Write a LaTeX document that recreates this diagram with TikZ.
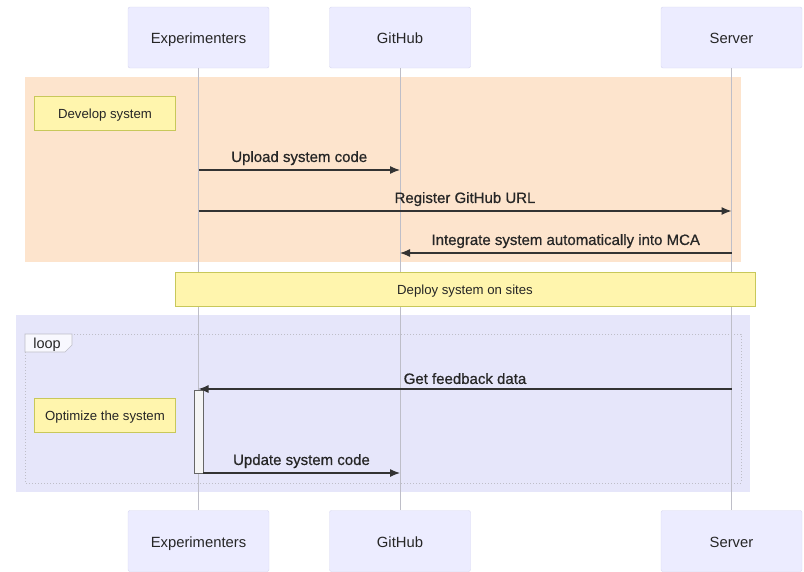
\documentclass[tikz,border=0pt]{standalone}
\usepackage{fontspec}
\setmainfont{Liberation Sans}
\newfontfamily\msgfont[FakeBold=0.6]{Liberation Sans}
\usetikzlibrary{arrows.meta}
\definecolor{actorfill}{RGB}{236,236,255}
\definecolor{actorline}{RGB}{214,214,240}
\definecolor{devrect}{RGB}{253,228,205}
\definecolor{looprect}{RGB}{230,230,250}
\definecolor{notefill}{RGB}{255,245,173}
\definecolor{noteline}{RGB}{200,200,90}
\definecolor{msgline}{RGB}{51,51,51}
\definecolor{lifegray}{RGB}{190,190,200}

\tikzset{
  actor/.style={draw=actorline, fill=actorfill, rounded corners=2pt, minimum width=141pt, minimum height=61pt, text height=12pt, text depth=0pt, font=\fontsize{14.8}{17}\selectfont, text=black!85},
  note/.style={draw=noteline, fill=notefill, minimum height=34pt, text height=10.5pt, text depth=0pt, font=\fontsize{13.2}{15}\selectfont, text=black!85},
  msg/.style={draw=msgline, line width=1.2pt, -{Latex[length=10pt,width=8pt]}},
  msglabel/.style={font=\msgfont\fontsize{15}{17}\selectfont, text=black!85},
  life/.style={draw=lifegray, line width=0.8pt}
}

\begin{document}
\begin{tikzpicture}[x=1pt, y=-1pt]
    \useasboundingbox (0,0) rectangle (804,571);
    % Background rectangles
    \fill[devrect] (25,77) rectangle (741,262);
    \fill[looprect] (16,315) rectangle (750,492);

    % Actors
    \node[actor] (expTop) at (198.5,37.5) {Experimenters};
    \node[actor] (gitTop) at (400,37.5) {GitHub};
    \node[actor] (srvTop) at (731.5,37.5) {Server};
    \node[actor] (expBot) at (198.5,541) {Experimenters};
    \node[actor] (gitBot) at (400,541) {GitHub};
    \node[actor] (srvBot) at (731.5,541) {Server};

    % Lifelines
    \draw[life] (expTop) -- (expBot);
    \draw[life] (gitTop) -- (gitBot);
    \draw[life] (srvTop) -- (srvBot);

    % Develop block
    \node[note, minimum width=141pt] (develop) at (105,113) {Develop system};
    \coordinate (upA) at (198.5,170);
    \coordinate (upB) at (400,170);
    \draw[msg] (upA) -- (upB) node[msglabel, midway, above=1pt] {Upload system code};
    \coordinate (regA) at (198.5,211);
    \coordinate (regB) at (731.5,211);
    \draw[msg] (regA) -- (regB) node[msglabel, midway, above=1pt] {Register GitHub URL};
    \coordinate (intA) at (731.5,253);
    \coordinate (intB) at (400,253);
    \draw[msg] (intA) -- (intB) node[msglabel, midway, above=1pt] {Integrate system automatically into MCA};

    % Deploy note
    \node[note, minimum width=580pt] (deploy) at (465,289) {Deploy system on sites};

    % Loop frame
    \draw[lifegray, dotted, line width=1pt] (25,334) rectangle (741,483);
    \draw[lifegray, fill=white!70!looprect, line width=0.6pt] (25,334) -- (72,334) -- (72,345) -- (65,352) -- (25,352) -- cycle;
    \node[font=\fontsize{14.5}{16}\selectfont, text=black!85] (looplabel) at (47,345) {loop};

    % Activation
    \draw[draw=black!60, fill=black!4, line width=0.8pt] (194,390) rectangle (203,473);
    \node[note, minimum width=141pt] (optimize) at (105,415) {Optimize the system};
    \coordinate (fbA) at (731.5,389);
    \coordinate (fbB) at (198.5,389);
    \draw[msg] (fbA) -- (fbB) node[msglabel, midway, above=1pt] {Get feedback data};
    \coordinate (updA) at (203,473);
    \coordinate (updB) at (400,473);
    \draw[msg] (updA) -- (updB) node[msglabel, midway, above=1pt] {Update system code};
\end{tikzpicture}
\end{document}
